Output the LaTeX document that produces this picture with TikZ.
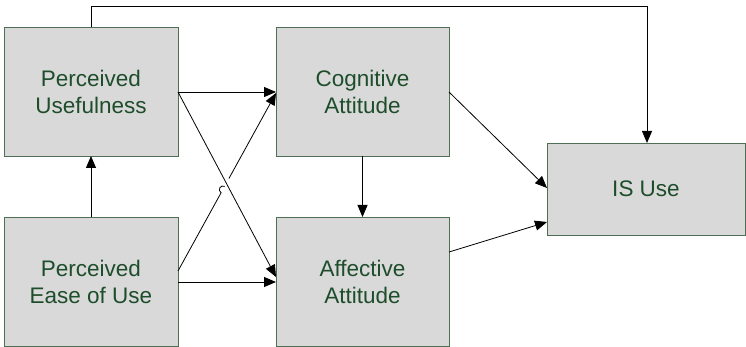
\documentclass[tikz,border=0pt]{standalone}
\usepackage{fontspec}
\setmainfont{Liberation Sans}
\usetikzlibrary{arrows.meta}
\definecolor{boxfill}{HTML}{D9D9D9}
\definecolor{boxline}{HTML}{4F6F55}
\definecolor{txt}{HTML}{1E4D2B}
\tikzset{
  box/.style={draw=boxline, fill=boxfill, line width=0.8pt, inner sep=0pt, outer sep=0pt,
    text=txt, align=center, font=\fontsize{22.5}{27}\selectfont},
  conn/.style={line width=0.8pt, -{Triangle[length=12pt,width=10pt]}}
}
\begin{document}
\begin{tikzpicture}[x=1pt,y=-1pt]
\useasboundingbox (0,0) rectangle (746,347);
\node[box, minimum width=174pt, minimum height=129pt] (pu) at (91,91.5) {Perceived\\Usefulness};
\node[box, minimum width=174pt, minimum height=129pt] (peou) at (91,281.5) {Perceived\\Ease of Use};
\node[box, minimum width=173pt, minimum height=129pt] (ca) at (362.5,91.5) {Cognitive\\Attitude};
\node[box, minimum width=173pt, minimum height=129pt] (aa) at (362.5,281.5) {Affective\\Attitude};
\node[box, minimum width=198pt, minimum height=92pt] (is) at (646,189) {IS Use};
% coordinates on edges
\coordinate (puR) at (pu.east |- 0,92);
\coordinate (peouR1) at (peou.east |- 0,271);
\coordinate (peouR2) at (peou.east |- 0,282);
\coordinate (caL) at (ca.west |- 0,92);
\coordinate (caL2) at (ca.west |- 0,93);
\coordinate (aaL1) at (aa.west |- 0,277);
\coordinate (aaL2) at (aa.west |- 0,282);
\coordinate (top) at (91,6);
\coordinate (topR) at (647,6);
\draw[conn] (puR) -- (caL);
\draw[conn] (peouR2) -- (aaL2);
\draw[conn] (puR) -- (aaL1);
% PEOU -> CA with a hop over the crossing line
\path (peouR1) -- (caL2) coordinate[pos=0.44] (h1) coordinate[pos=0.52] (h2);
\draw[line width=0.8pt] (peouR1) -- (h1) arc[start angle=240, end angle=60, radius=3.6pt];
\draw[conn] (h2) -- (caL2);
\draw[conn] (peou.north) -- (pu.south);
\draw[conn] (ca.south) -- (aa.north);
\draw[conn] (ca.east |- 0,92) -- (is.west |- 0,188);
\draw[conn] (aa.east |- 0,252) -- (is.west |- 0,222);
\draw[conn] (pu.north) -- (top) -- (topR) -- (is.north -| topR);
\end{tikzpicture}
\end{document}
